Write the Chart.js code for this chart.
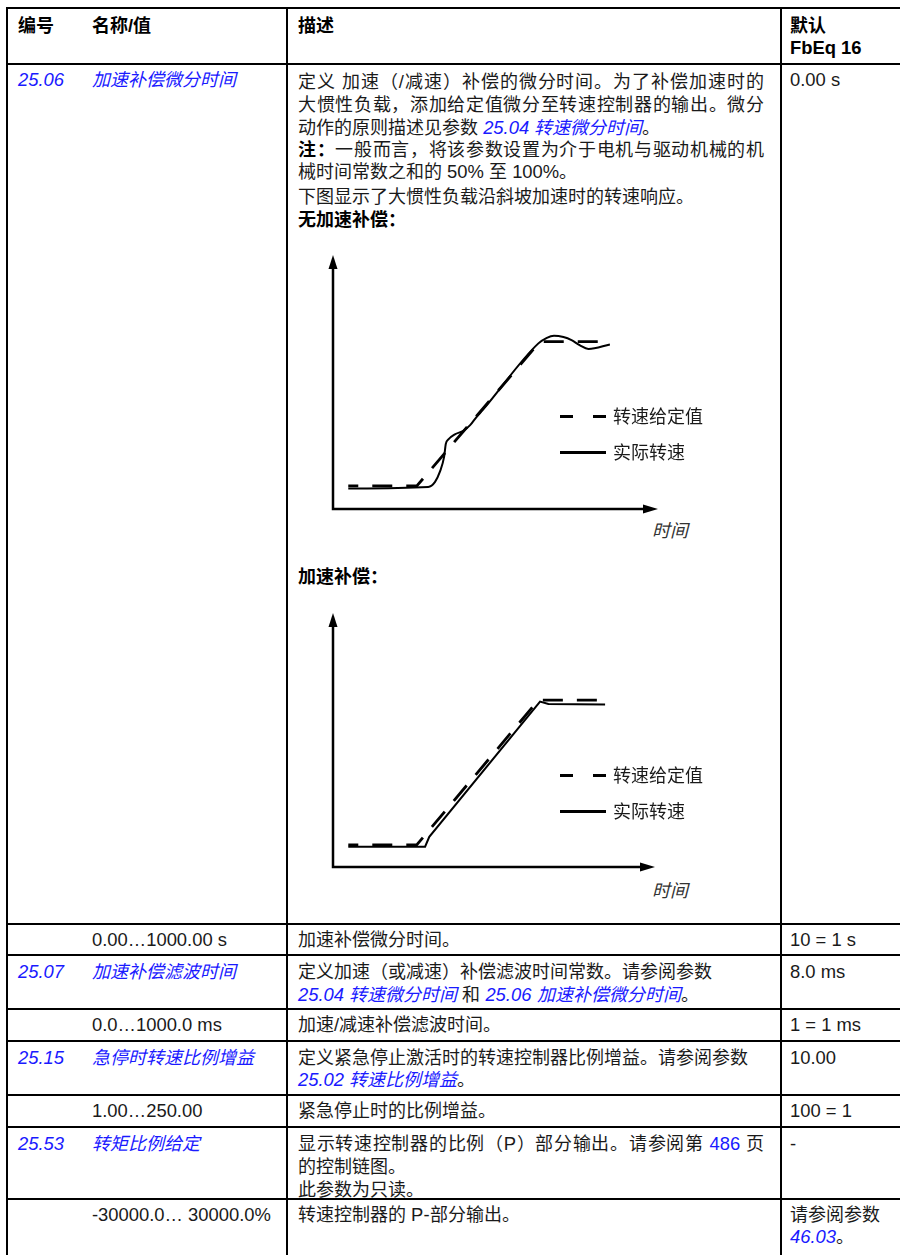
<!DOCTYPE html>
<html lang="zh-CN">
<head>
<meta charset="utf-8">
<title>25.06 加速补偿微分时间</title>
<script src="https://cdn.jsdelivr.net/npm/chart.js@4.4.1/dist/chart.umd.min.js"></script>
<style>
@font-face{font-family:"CJKAdj";src:local("Noto Sans CJK SC"),local("Noto Sans CJK SC Regular"),local("NotoSansCJKsc-Regular");size-adjust:97.8%;font-weight:400}
@font-face{font-family:"CJKAdj";src:local("Noto Sans CJK SC Bold"),local("NotoSansCJKsc-Bold");size-adjust:97.8%;font-weight:700}
html,body{margin:0;padding:0;background:#fff}
#page{position:relative;width:900px;height:1255px;overflow:hidden;background:#fff}
.t{position:absolute;font-family:"Liberation Sans",Arial,"CJKAdj","Noto Sans CJK SC",sans-serif;font-size:18.4px;line-height:22px;color:#1a1a1a;white-space:nowrap}
.b,.t b{font-weight:bold;color:#000}
.lk{color:#1a1aff;font-style:italic}
.j{width:466px;text-align:justify;text-align-last:justify}
.h{position:absolute;left:6px;width:894px;height:2px;background:#000}
.v{position:absolute;top:7px;width:2px;height:1248px;background:#000}
canvas{position:absolute}
.dash{position:absolute;width:46px;height:3px;background:linear-gradient(to right,#000 0 13px,transparent 13px 33px,#000 33px 46px)}
.solid{position:absolute;width:46px;height:3px;background:#000}
.it{font-style:italic;color:#333}
</style>
</head>
<body>
<div id="page">
  <!-- 表格线 -->
  <div class="h" style="top:7px"></div>
  <div class="h" style="top:63px"></div>
  <div class="h" style="top:923px"></div>
  <div class="h" style="top:954px"></div>
  <div class="h" style="top:1008px"></div>
  <div class="h" style="top:1040px"></div>
  <div class="h" style="top:1094px"></div>
  <div class="h" style="top:1126px"></div>
  <div class="h" style="top:1198px"></div>
  <div class="v" style="left:6px"></div>
  <div class="v" style="left:286px"></div>
  <div class="v" style="left:780px"></div>

  <!-- 表头 -->
  <div class="t b" style="left:18px;top:15px">编号</div>
  <div class="t b" style="left:92px;top:15px">名称/值</div>
  <div class="t b" style="left:298px;top:15px">描述</div>
  <div class="t b" style="left:790px;top:15px">默认<br>FbEq 16</div>

  <!-- 25.06 -->
  <div class="t lk" style="left:18px;top:69px">25.06</div>
  <div class="t lk" style="left:92px;top:69px">加速补偿微分时间</div>
  <div class="t" style="left:790px;top:69px">0.00 s</div>
  <div class="t j" style="left:298px;top:71px">定义 加速（/减速）补偿的微分时间。为了补偿加速时的</div>
  <div class="t j" style="left:298px;top:94px">大惯性负载，添加给定值微分至转速控制器的输出。微分</div>
  <div class="t" style="left:298px;top:117px">动作的原则描述见参数 <span class="lk">25.04 转速微分时间</span>。</div>
  <div class="t j" style="left:298px;top:139px"><b>注：</b>一般而言，将该参数设置为介于电机与驱动机械的机</div>
  <div class="t" style="left:298px;top:161px">械时间常数之和的 50% 至 100%。</div>
  <div class="t" style="left:298px;top:186px">下图显示了大惯性负载沿斜坡加速时的转速响应。</div>
  <div class="t b" style="left:298px;top:209px">无加速补偿：</div>
  <div class="t b" style="left:298px;top:566px">加速补偿：</div>

  <canvas id="chartNoComp" width="350" height="275" style="left:323px;top:245px"></canvas>
  <canvas id="chartComp" width="350" height="275" style="left:323px;top:603px"></canvas>

  <div class="dash" style="left:560px;top:415px"></div>
  <div class="t leg0" style="left:613px;top:406px"></div>
  <div class="solid" style="left:560px;top:451px"></div>
  <div class="t leg1" style="left:613px;top:442px"></div>
  <div class="t it tlab" style="left:652px;top:520px"></div>

  <div class="dash" style="left:560px;top:774px"></div>
  <div class="t leg0" style="left:613px;top:765px"></div>
  <div class="solid" style="left:560px;top:810px"></div>
  <div class="t leg1" style="left:613px;top:801px"></div>
  <div class="t it tlab" style="left:652px;top:880px"></div>

  <!-- 0.00…1000.00 s -->
  <div class="t" style="left:92px;top:929px">0.00…1000.00 s</div>
  <div class="t" style="left:298px;top:929px">加速补偿微分时间。</div>
  <div class="t" style="left:790px;top:929px">10 = 1 s</div>

  <!-- 25.07 -->
  <div class="t lk" style="left:18px;top:961px">25.07</div>
  <div class="t lk" style="left:92px;top:961px">加速补偿滤波时间</div>
  <div class="t" style="left:298px;top:961px">定义加速（或减速）补偿滤波时间常数。请参阅参数</div>
  <div class="t" style="left:298px;top:984px"><span class="lk">25.04 转速微分时间</span> 和 <span class="lk">25.06 加速补偿微分时间</span>。</div>
  <div class="t" style="left:790px;top:961px">8.0 ms</div>

  <div class="t" style="left:92px;top:1014px">0.0…1000.0 ms</div>
  <div class="t" style="left:298px;top:1014px">加速/减速补偿滤波时间。</div>
  <div class="t" style="left:790px;top:1014px">1 = 1 ms</div>

  <!-- 25.15 -->
  <div class="t lk" style="left:18px;top:1047px">25.15</div>
  <div class="t lk" style="left:92px;top:1047px">急停时转速比例增益</div>
  <div class="t" style="left:298px;top:1047px">定义紧急停止激活时的转速控制器比例增益。请参阅参数</div>
  <div class="t" style="left:298px;top:1069px"><span class="lk">25.02 转速比例增益</span>。</div>
  <div class="t" style="left:790px;top:1047px">10.00</div>

  <div class="t" style="left:92px;top:1100px">1.00…250.00</div>
  <div class="t" style="left:298px;top:1100px">紧急停止时的比例增益。</div>
  <div class="t" style="left:790px;top:1100px">100 = 1</div>

  <!-- 25.53 -->
  <div class="t lk" style="left:18px;top:1133px">25.53</div>
  <div class="t lk" style="left:92px;top:1133px">转矩比例给定</div>
  <div class="t j" style="left:298px;top:1133px">显示转速控制器的比例（P）部分输出。请参阅第 <span style="color:#1a1aff">486</span> 页</div>
  <div class="t" style="left:298px;top:1156px">的控制链图。</div>
  <div class="t" style="left:298px;top:1179px">此参数为只读。</div>
  <div class="t" style="left:790px;top:1133px">-</div>

  <div class="t" style="left:92px;top:1204px">-30000.0… 30000.0%</div>
  <div class="t" style="left:298px;top:1204px">转速控制器的 P-部分输出。</div>
  <div class="t" style="left:790px;top:1204px">请参阅参数<br><span class="lk">46.03</span>。</div>
</div>

<script>
// 图例 & 轴标签
const legendLabels = ["转速给定值", "实际转速"];
const timeLabel = "时间";

// 无加速补偿 (x: 时间, y: 转速, 0..100)
const refTime1 = [4.7, 25.8, 63.7, 84.7];
const refSpeed1 = [9.1, 9.1, 65.9, 65.9];
const actTime1 = [4.7, 29.3, 31.4, 32.9, 34.2, 34.7, 35.5, 37.5, 40.1, 42.2, 44.2, 46.1, 63.2, 65.8, 68.0, 70.9, 73.4, 76.0, 78.6, 85.2];
const actSpeed1 = [8.1, 8.7, 10.7, 14.7, 20.6, 25.6, 27.4, 29.4, 30.8, 33.0, 36.3, 39.0, 65.2, 67.4, 68.2, 67.7, 66.5, 64.4, 63.0, 64.8];

// 加速补偿
const refTime2 = [4.75, 26.0, 63.8, 84.5];
const refSpeed2 = [8.7, 8.7, 65.7, 65.7];
const actTime2 = [4.75, 28.6, 29.9, 64.3, 66.9, 84.5];
const actSpeed2 = [8.0, 8.0, 11.9, 65.1, 64.2, 64.0];

document.querySelectorAll(".leg0").forEach(el => el.textContent = legendLabels[0]);
document.querySelectorAll(".leg1").forEach(el => el.textContent = legendLabels[1]);
document.querySelectorAll(".tlab").forEach(el => el.textContent = timeLabel);

function toPoints(xs, ys) {
  return xs.map((x, i) => ({ x: x, y: ys[i] }));
}

// 坐标轴带箭头
const arrowAxes = {
  id: "arrowAxes",
  afterDraw(chart) {
    const { ctx, chartArea: a } = chart;
    ctx.save();
    ctx.strokeStyle = "#000";
    ctx.fillStyle = "#000";
    ctx.lineWidth = 2.5;
    ctx.beginPath();
    ctx.moveTo(a.left, a.top + 12);
    ctx.lineTo(a.left, a.bottom);
    ctx.lineTo(a.right - 12, a.bottom);
    ctx.stroke();
    ctx.beginPath();
    ctx.moveTo(a.left, a.top);
    ctx.lineTo(a.left - 4.5, a.top + 14);
    ctx.lineTo(a.left + 4.5, a.top + 14);
    ctx.closePath();
    ctx.fill();
    ctx.beginPath();
    ctx.moveTo(a.right, a.bottom);
    ctx.lineTo(a.right - 15, a.bottom - 4.5);
    ctx.lineTo(a.right - 15, a.bottom + 4.5);
    ctx.closePath();
    ctx.fill();
    ctx.restore();
  }
};

function drawResponse(id, refT, refS, actT, actS, padRight, smooth) {
  const ctx = document.getElementById(id);
  return new Chart(ctx, {
    type: "line",
    data: {
      datasets: [{
        label: legendLabels[0],
        data: toPoints(refT, refS),
        borderColor: "#000",
        borderWidth: 2.8,
        borderDash: [20, 14],
        borderDashOffset: 10,
        pointRadius: 0,
        tension: 0,
        fill: false
      }, {
        label: legendLabels[1],
        data: toPoints(actT, actS),
        borderColor: "#000",
        borderWidth: 2,
        pointRadius: 0,
        cubicInterpolationMode: smooth ? "monotone" : "default",
        tension: 0,
        fill: false
      }]
    },
    options: {
      responsive: false,
      animation: false,
      devicePixelRatio: 1,
      events: [],
      layout: { padding: { left: 10, top: 10, right: padRight, bottom: 11 } },
      plugins: { legend: { display: false }, tooltip: { enabled: false } },
      scales: {
        x: { type: "linear", min: 0, max: 100, display: false },
        y: { min: 0, max: 100, display: false }
      }
    },
    plugins: [arrowAxes]
  });
}

drawResponse("chartNoComp", refTime1, refSpeed1, actTime1, actSpeed1, 15, true);
drawResponse("chartComp", refTime2, refSpeed2, actTime2, actSpeed2, 18, false);
</script>
</body>
</html>
